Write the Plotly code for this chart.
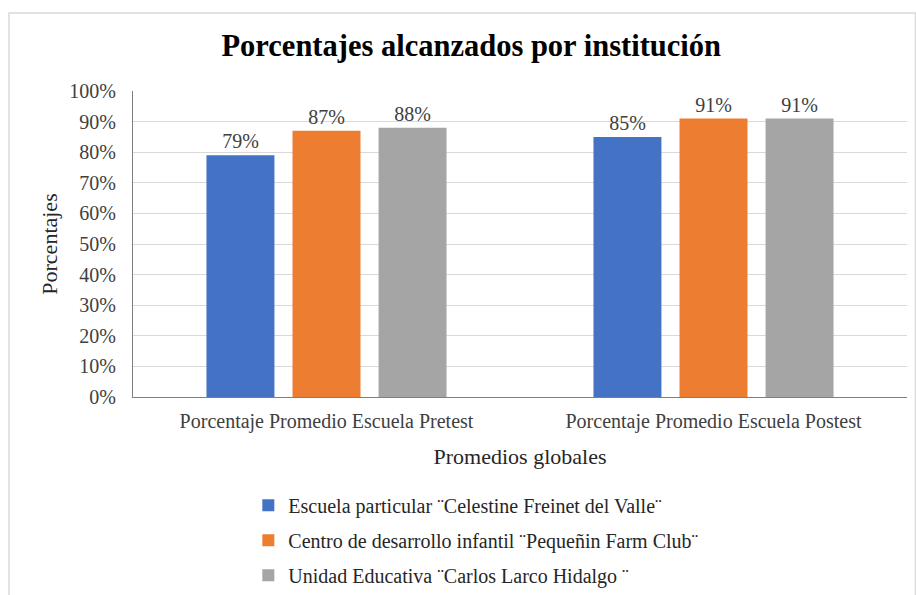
import plotly.graph_objects as go

categories = ["Porcentaje Promedio Escuela Pretest", "Porcentaje Promedio Escuela Postest"]
series_names = [
    "Escuela particular ¨Celestine Freinet del Valle¨",
    "Centro de desarrollo infantil ¨Pequeñin Farm Club¨",
    "Unidad Educativa ¨Carlos Larco Hidalgo ¨",
]
celestine = [0.79, 0.85]
pequenin = [0.87, 0.91]
larco = [0.88, 0.91]
colors = ["#4472C4", "#ED7D31", "#A5A5A5"]
y_ticks = [i / 10 for i in range(11)]

FONT = "Liberation Serif, Times New Roman, serif"

fig = go.Figure()
for i, (name, vals) in enumerate(zip(series_names, [celestine, pequenin, larco])):
    fig.add_trace(go.Bar(
        x=categories, y=vals, name=name,
        marker=dict(color=colors[i], line=dict(width=0)),
        text=[f"{round(v*100)}%" for v in vals],
        textposition="outside",
        textfont=dict(family=FONT, size=20, color="#404040"),
        cliponaxis=False,
        legendgroup=f"g{i}",
    ))

fig.update_layout(
    width=916, height=595,
    margin=dict(l=133, r=9, t=91, b=198, autoexpand=False),
    paper_bgcolor="white", plot_bgcolor="white",
    font=dict(family=FONT, color="#404040", size=20),
    barmode="group", bargap=0.333, bargroupgap=0.21,
    title=dict(
        text="<b>Porcentajes alcanzados por institución</b>",
        font=dict(family=FONT, size=30.5, color="black"),
        x=0.437, xref="paper", xanchor="center",
        y=1 - 45 / 595, yref="container", yanchor="middle",
    ),
    showlegend=True,
    legend=dict(
        orientation="v", x=0.149, xanchor="left", y=-0.29, yanchor="top",
        font=dict(family=FONT, size=20, color="#262626"),
        tracegroupgap=6, bgcolor="rgba(0,0,0,0)",
    ),
)

fig.update_xaxes(
    showline=True, linecolor="#7f7f7f", linewidth=1,
    showgrid=False, ticks="", automargin=False,
    tickfont=dict(family=FONT, size=20, color="#404040"),
    ticklabelstandoff=6,
    title=dict(text="Promedios globales", font=dict(family=FONT, size=22, color="#262626"), standoff=16),
)
fig.update_yaxes(
    range=[0, 1], tickvals=y_ticks, tickformat=".0%",
    showline=True, linecolor="#7f7f7f", linewidth=1,
    showgrid=True, gridcolor="#d9d9d9", gridwidth=1,
    zeroline=False, ticks="", automargin=False,
    tickfont=dict(family=FONT, size=20, color="#404040"),
    ticklabelstandoff=12,
    title=dict(text="Porcentajes", font=dict(family=FONT, size=22, color="#262626"), standoff=5),
)

# outer chart border (Excel chart area frame)
fig.add_shape(type="rect", xref="paper", yref="paper",
              x0=(9 - 133) / 774, x1=(915.5 - 133) / 774,
              y0=(397 - 640) / 306, y1=(397 - 13) / 306,
              line=dict(color="#d9d9d9", width=1.5), fillcolor="rgba(0,0,0,0)", layer="below")

fig.write_html("out.html", config={"displayModeBar": False},
               post_script="document.body.style.margin='0';document.body.style.overflow='hidden';")
